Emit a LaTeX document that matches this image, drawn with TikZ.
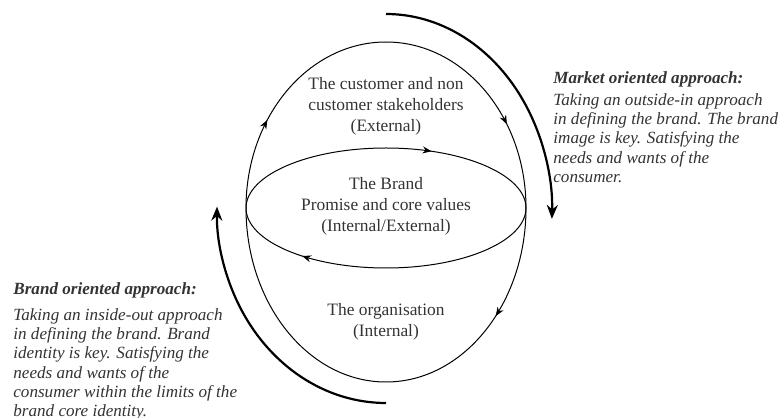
\documentclass[tikz,border=0pt]{standalone}
\usepackage{fontspec}
\setmainfont{Liberation Serif}
\usetikzlibrary{positioning, arrows.meta, decorations.markings}

\tikzset{
  tip at/.style={postaction={decorate, decoration={markings,
      mark=at position #1 with {\arrow{Stealth[length=4.5pt,width=3.5pt]}}}}},
}

\begin{document}
\begin{tikzpicture}[x=0.5pt, y=0.5pt]
\tikzstyle{ring} = [line width=0.5pt]
\tikzstyle{sweep} = [-{Stealth[length=7pt,width=5.5pt]}, line width=1.1pt]
\tikzstyle{zone} = [align=center, inner sep=0pt, font=\fontsize{8.7}{10.5}\selectfont, text=black!80]
\tikzstyle{note} = [align=left, anchor=north west, inner sep=0pt, font=\fontsize{8.55}{9.6}\selectfont\itshape, text=black!80]

\useasboundingbox (0,0) rectangle (783,418);

% outer oval, both halves run clockwise
\draw[ring, tip at=0.19, tip at=0.82] (246,210) arc[start angle=180, end angle=0, x radius=70pt, y radius=83pt];
\draw[ring, tip at=0.23] (526,210) arc[start angle=0, end angle=-180, x radius=70pt, y radius=87pt];

% the brand ring in the middle
\draw[ring, tip at=0.32, tip at=0.88] (246,210) arc[start angle=180, end angle=-180, x radius=70pt, y radius=30pt];

% the two approaches
\draw[sweep] (386,404) arc[start angle=90, end angle=-2, x radius=83pt, y radius=99pt];
\draw[sweep] (386,15) arc[start angle=-90, end angle=-181, x radius=84.5pt, y radius=96.5pt];

% texts inside
\node[zone] (cust) at (386,312) {The customer and non\\customer stakeholders\\(External)};
\node[zone] (brand) at (386,212) {The Brand\\Promise and core values\\(Internal/External)};
\node[zone] (org) at (386,96) {The organisation\\(Internal)};

% texts outside
\node[note] (market) at (553,347) {\textbf{Market oriented approach:}\\[1.5pt]
  Taking an outside-in approach\\in defining the brand. The brand\\image is key. Satisfying the\\needs and wants of the\\consumer.};
\node[note] (brandled) at (13,136) {\textbf{Brand oriented approach:}\\[3.5pt]
  Taking an inside-out approach\\in defining the brand. Brand\\identity is key. Satisfying the\\needs and wants of the\\consumer within the limits of the\\brand core identity.};

\end{tikzpicture}
\end{document}
